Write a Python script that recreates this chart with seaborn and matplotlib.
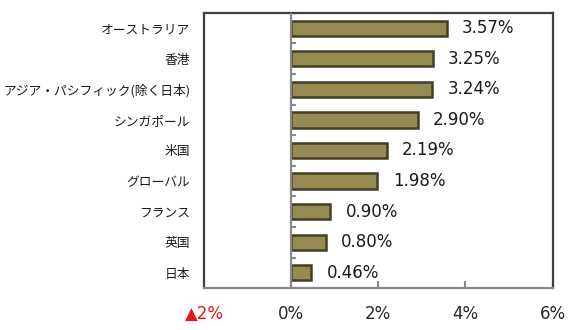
import matplotlib
matplotlib.use("Agg")
import matplotlib.pyplot as plt
import seaborn as sns
import pandas as pd

# Data
regions = ["オーストラリア", "香港", "アジア・パシフィック(除く日本)", "シンガポール",
           "米国", "グローバル", "フランス", "英国", "日本"]
yields = [3.57, 3.25, 3.24, 2.90, 2.19, 1.98, 0.90, 0.80, 0.46]
x_ticks = [-2, 0, 2, 4, 6]
x_tick_labels = ["▲2%", "0%", "2%", "4%", "6%"]

df = pd.DataFrame({"region": regions, "yield": yields})

sns.set_theme(style="white")
plt.rcParams["font.family"] = ["Noto Sans CJK JP", "DejaVu Sans"]

fig = plt.figure(figsize=(5.78, 3.30), dpi=100)
ax = fig.add_axes([0.353, 0.127, 0.603, 0.834])

sns.barplot(data=df, x="yield", y="region", orient="h", ax=ax,
            color="#948a54", saturation=1, width=0.5,
            edgecolor="#433f22", linewidth=1.8)

ax.set_xlim(-2, 6)
ax.set_ylim(len(regions) - 0.5, -0.5)
ax.set_xlabel("")
ax.set_ylabel("")

# zero line with small separators between categories
ax.axvline(0, color="#8a8a8a", lw=1.6, zorder=3)
for i in range(len(regions)):
    ax.plot([0, 0.1], [i + 0.5, i + 0.5], color="#8a8a8a", lw=1.5,
            solid_capstyle="butt", zorder=3)

# frame
for side in ["left", "top", "right"]:
    ax.spines[side].set_color("#3f3f3f")
    ax.spines[side].set_linewidth(1.6)
ax.spines["bottom"].set_color("#8a8a8a")
ax.spines["bottom"].set_linewidth(1.6)

ax.set_xticks(x_ticks)
ax.set_xticklabels(x_tick_labels, fontsize=12, family="DejaVu Sans")
ax.tick_params(axis="x", direction="in", length=5, width=1.5,
               color="#8a8a8a", pad=12, bottom=True)
ax.get_xticklabels()[0].set_color("#e8141b")

ax.tick_params(axis="y", length=0, pad=10, labelsize=9.2)
for lab in ax.get_yticklabels():
    lab.set_color("#1a1a1a")

# value labels
for i, v in enumerate(yields):
    ax.annotate(f"{v:.2f}%", xy=(v, i), xytext=(11, 0),
                textcoords="offset points", va="center", ha="left",
                fontsize=12, family="DejaVu Sans", color="#1a1a1a")

fig.savefig("out.png", dpi=100)
